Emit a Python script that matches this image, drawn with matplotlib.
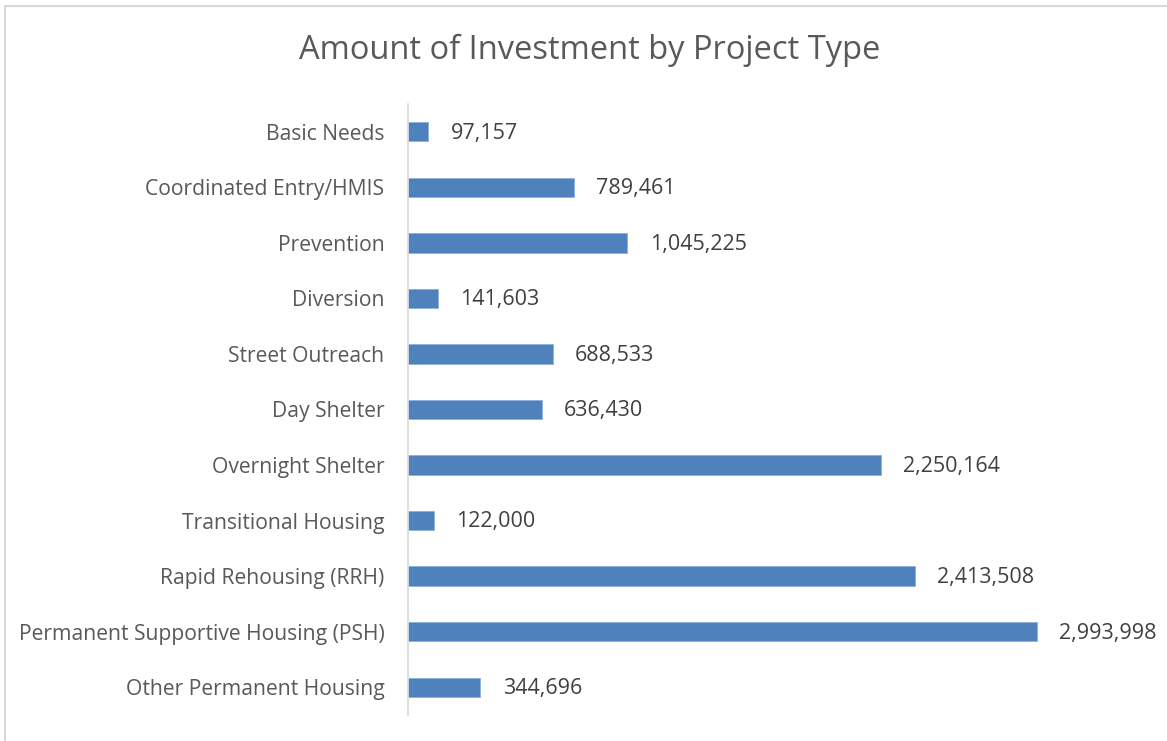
import matplotlib.pyplot as plt
from matplotlib.lines import Line2D

categories = ["Basic Needs", "Coordinated Entry/HMIS", "Prevention", "Diversion",
              "Street Outreach", "Day Shelter", "Overnight Shelter",
              "Transitional Housing", "Rapid Rehousing (RRH)",
              "Permanent Supportive Housing (PSH)", "Other Permanent Housing"]
amounts = [97157, 789461, 1045225, 141603, 688533, 636430, 2250164,
           122000, 2413508, 2993998, 344696]

plt.rcParams['font.family'] = ['Open Sans', 'DejaVu Sans']

fig = plt.figure(figsize=(11.67, 7.41), dpi=100)
W, H = 1167, 741
ax = fig.add_axes([408 / W, 1 - 715 / H, (1143 - 408) / W, (715 - 104) / H])

# chart border (only top and left visible in the crop)
fig.lines.append(Line2D([5 / W, 5 / W, 1], [0, 1 - 6 / H, 1 - 6 / H],
                        transform=fig.transFigure, color='#d9d9d9', linewidth=1.5))

y = list(range(len(categories)))
ax.barh(y, amounts, height=0.35, color='#4f81bd', edgecolor='#8eb0da', linewidth=0.6)
ax.set_ylim(len(categories) - 0.5, -0.5)
ax.set_xlim(0, 3500000)

ax.set_yticks(y)
ax.set_yticklabels(categories, fontsize=15.2, color='#595959')
ax.tick_params(axis='y', length=0, pad=17)
ax.set_xticks([])

for v, yy in zip(amounts, y):
    ax.annotate(f"{v:,}", (v, yy), xytext=(16, -1), textcoords='offset points',
                va='center', ha='left', fontsize=15.5, color='#404040')

for s in ['top', 'right', 'bottom']:
    ax.spines[s].set_visible(False)
ax.spines['left'].set_color('#d9d9d9')
ax.spines['left'].set_linewidth(1.2)

fig.text(590 / W, 1 - 50 / H, "Amount of Investment by Project Type",
         ha='center', va='center', fontsize=23.5, color='#595959')

fig.savefig('out.png', dpi=100, facecolor='white')
